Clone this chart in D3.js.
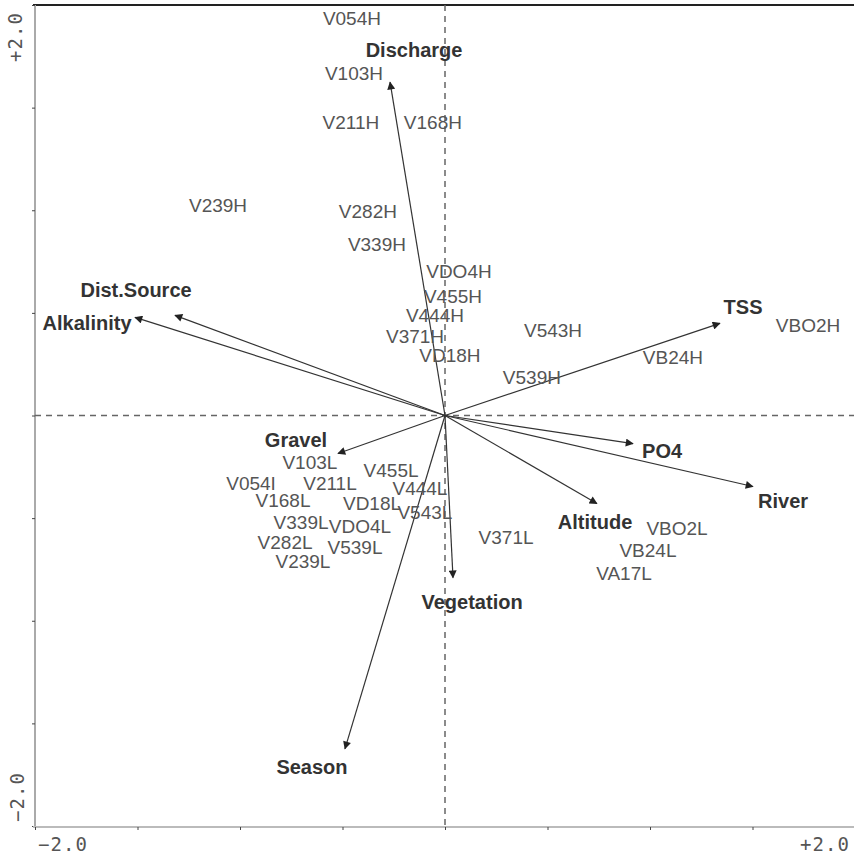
<!DOCTYPE html>
<html>
<head>
<meta charset="utf-8">
<script src="https://cdn.jsdelivr.net/npm/d3@7"></script>
<style>
  body { margin: 0; background: #fff; }
  svg { display: block; }
</style>
</head>
<body>
<div id="chart"></div>
<script>
// site scores (axis 1, axis 2)
var siteNames = ["V054H", "V103H", "V211H", "V168H", "V239H", "V282H", "V339H", "VDO4H",
  "V455H", "V444H", "V371H", "VD18H", "V543H", "VBO2H", "VB24H", "V539H",
  "V103L", "V455L", "V054I", "V211L", "V444L", "V168L", "VD18L", "V543L",
  "V339L", "VDO4L", "V282L", "V539L", "V239L", "V371L", "VBO2L", "VB24L", "VA17L"];
var siteX = [-0.454, -0.444, -0.459, -0.059, -1.107, -0.376, -0.332, 0.068,
  0.039, -0.049, -0.146, 0.024, 0.527, 1.771, 1.112, 0.424,
  -0.659, -0.263, -0.946, -0.561, -0.122, -0.790, -0.356, -0.098,
  -0.702, -0.415, -0.780, -0.439, -0.693, 0.298, 1.132, 0.990, 0.873];
var siteY = [1.937, 1.668, 1.429, 1.429, 1.024, 0.995, 0.834, 0.702,
  0.580, 0.488, 0.385, 0.293, 0.415, 0.439, 0.283, 0.185,
  -0.229, -0.268, -0.332, -0.332, -0.356, -0.415, -0.429, -0.473,
  -0.522, -0.541, -0.620, -0.644, -0.712, -0.595, -0.551, -0.659, -0.771];

// environmental variables (arrow tips) and where their names sit
var envNames = ["Discharge", "Dist.Source", "Alkalinity", "TSS", "PO4", "River",
  "Altitude", "Vegetation", "Season", "Gravel"];
var envX = [-0.268, -1.317, -1.512, 1.341, 0.917, 1.502, 0.741, 0.039, -0.488, -0.522];
var envY = [1.624, 0.488, 0.478, 0.449, -0.137, -0.346, -0.429, -0.790, -1.624, -0.185];
var envLabelX = [-0.151, -1.507, -1.746, 1.454, 1.059, 1.649, 0.732, 0.132, -0.649, -0.727];
var envLabelY = [1.780, 0.610, 0.449, 0.527, -0.171, -0.415, -0.517, -0.907, -1.712, -0.117];

var axisTicks = [-2, -1.5, -1, -0.5, 0, 0.5, 1, 1.5, 2];
var axisMin = -2, axisMax = 2;

const W = 854, H = 856;

var svg = d3.select("#chart").append("svg")
  .attr("width", W).attr("height", H);

var x = d3.scaleLinear().domain([axisMin, axisMax]).range([35, 855]);
var y = d3.scaleLinear().domain([axisMin, axisMax]).range([826, 5]);

// top frame line
svg.append("line")
  .attr("x1", 33).attr("x2", W)
  .attr("y1", 5).attr("y2", 5)
  .attr("stroke", "#222").attr("stroke-width", 2);

// left axis
var yAxis = svg.append("g")
  .attr("transform", "translate(" + x(axisMin) + ",0)")
  .call(d3.axisLeft(y).tickValues(axisTicks).tickSize(3).tickFormat(""));
yAxis.select(".domain").attr("stroke", "#aaa").attr("stroke-width", 2)
  .attr("d", "M0," + y(axisMax) + "V" + (y(axisMin) + 1));
yAxis.selectAll(".tick line").attr("stroke", "#444");

// bottom axis
var xAxis = svg.append("g")
  .attr("transform", "translate(0," + (y(axisMin) + 1) + ")")
  .call(d3.axisBottom(x).tickValues(axisTicks).tickSize(3).tickFormat(""));
xAxis.select(".domain").attr("stroke", "#bbb").attr("stroke-width", 2)
  .attr("d", "M33,0H" + W);
xAxis.selectAll(".tick line").attr("stroke", "#444");

// zero lines
svg.append("line")
  .attr("x1", x(axisMin)).attr("x2", W)
  .attr("y1", y(0)).attr("y2", y(0))
  .attr("stroke", "#666").attr("stroke-width", 1.5)
  .attr("stroke-dasharray", "6,5");
svg.append("line")
  .attr("x1", x(0)).attr("x2", x(0))
  .attr("y1", y(axisMax)).attr("y2", y(axisMin) + 1)
  .attr("stroke", "#666").attr("stroke-width", 1.5)
  .attr("stroke-dasharray", "6,5");

// end labels of the axes
var tickFont = "'DejaVu Sans Mono', 'Liberation Mono', monospace";
function fmt(v) { return (v > 0 ? "+" : "\u2212") + Math.abs(v).toFixed(1); }

svg.append("text")
  .attr("transform", "translate(22," + (y(axisMax) + 32) + ") rotate(-90)")
  .attr("text-anchor", "middle")
  .style("font-family", tickFont).style("font-size", "19px")
  .attr("fill", "#555").attr("letter-spacing", "1px")
  .text(fmt(axisMax));
svg.append("text")
  .attr("transform", "translate(24," + (y(axisMin) - 29) + ") rotate(-90)")
  .attr("text-anchor", "middle")
  .style("font-family", tickFont).style("font-size", "19px")
  .attr("fill", "#555").attr("letter-spacing", "1px")
  .text(fmt(axisMin));
svg.append("text")
  .attr("x", x(axisMin) + 28).attr("y", 851)
  .attr("text-anchor", "middle")
  .style("font-family", tickFont).style("font-size", "19px")
  .attr("fill", "#555").attr("letter-spacing", "1px")
  .text(fmt(axisMin));
svg.append("text")
  .attr("x", x(axisMax) - 30).attr("y", 851)
  .attr("text-anchor", "middle")
  .style("font-family", tickFont).style("font-size", "19px")
  .attr("fill", "#555").attr("letter-spacing", "1px")
  .text(fmt(axisMax));

// arrow head
svg.append("defs").append("marker")
  .attr("id", "head")
  .attr("viewBox", "0 0 10 10")
  .attr("refX", 9).attr("refY", 5)
  .attr("markerWidth", 9).attr("markerHeight", 8)
  .attr("markerUnits", "userSpaceOnUse")
  .attr("orient", "auto")
  .append("path")
  .attr("d", "M0,0L10,5L0,10Z")
  .attr("fill", "#222");

var env = envNames.map(function(d, i) {
  return { name: d, x: envX[i], y: envY[i], lx: envLabelX[i], ly: envLabelY[i] };
});

svg.append("g").selectAll("line")
  .data(env).enter()
  .append("line")
  .attr("x1", x(0)).attr("y1", y(0))
  .attr("x2", function(d) { return x(d.x); })
  .attr("y2", function(d) { return y(d.y); })
  .attr("stroke", "#333").attr("stroke-width", 1.2)
  .attr("marker-end", "url(#head)");

// site labels
var sites = siteNames.map(function(d, i) { return { name: d, x: siteX[i], y: siteY[i] }; });
svg.append("g").selectAll("text")
  .data(sites).enter()
  .append("text")
  .attr("x", function(d) { return x(d.x); })
  .attr("y", function(d) { return y(d.y); })
  .attr("dy", "0.35em")
  .attr("text-anchor", "middle")
  .style("font-family", "'Liberation Sans', Arial, sans-serif")
  .style("font-size", "19px")
  .attr("fill", "#555")
  .text(function(d) { return d.name; });

// variable names
svg.append("g").selectAll("text")
  .data(env).enter()
  .append("text")
  .attr("x", function(d) { return x(d.lx); })
  .attr("y", function(d) { return y(d.ly); })
  .attr("dy", "0.35em")
  .attr("text-anchor", "middle")
  .style("font-family", "'Liberation Sans', Arial, sans-serif")
  .style("font-size", "20px")
  .style("font-weight", "bold")
  .attr("fill", "#333")
  .text(function(d) { return d.name; });
</script>
</body>
</html>
